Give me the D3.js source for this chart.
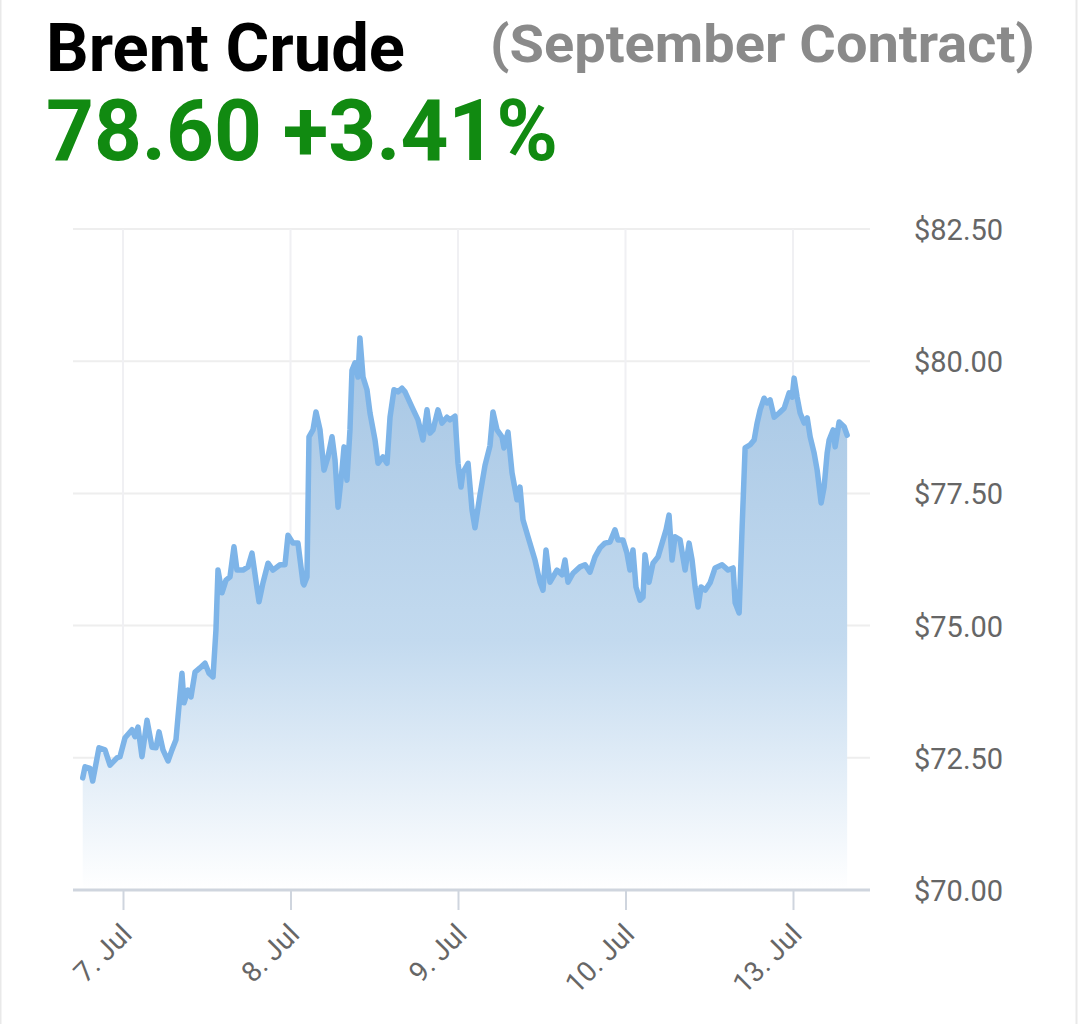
<!DOCTYPE html>
<html>
<head>
<meta charset="utf-8">
<script src="https://cdn.jsdelivr.net/npm/d3@7"></script>
<style>
  html, body { margin: 0; padding: 0; background: #ffffff; }
  svg { display: block; }
</style>
</head>
<body>
<svg id="chart" width="1080" height="1024"></svg>
<script>
// ---- data (trading-time hours after 7 Jul 00:00, weekend skipped) ----
const title = "Brent Crude";
const subtitle = "(September Contract)";
const lastPrice = "78.60";
const changePct = "+3.41%";

const xTickHours = [0, 24, 48, 72, 96];
const xTickLabels = ["7. Jul", "8. Jul", "9. Jul", "10. Jul", "13. Jul"];
const yTicks = [70, 72.5, 75, 77.5, 80, 82.5];

const hours = [
  -5.77, -5.44, -4.73, -4.34, -3.44, -2.58, -1.86, -0.86, -0.43, 0.29,
  1.29, 1.72, 2.15, 2.72, 3.44, 4.16, 4.73, 5.16, 5.73, 6.45,
  7.02, 7.59, 7.88, 8.45, 8.74, 9.31, 9.74, 10.32, 11.03, 11.75,
  12.32, 12.90, 13.32, 13.61, 14.18, 14.76, 15.33, 15.90, 16.33, 17.19,
  17.91, 18.48, 19.20, 19.49, 20.06, 20.78, 21.49, 22.50, 23.21, 23.64,
  24.36, 25.07, 25.79, 25.93, 26.36, 26.65, 27.22, 27.65, 28.23, 28.80,
  29.37, 29.95, 30.38, 30.81, 31.38, 31.67, 32.09, 32.52, 32.81, 33.24,
  33.67, 33.95, 34.39, 34.96, 35.39, 36.11, 36.54, 37.25, 37.83, 38.26,
  38.83, 39.40, 39.97, 40.41, 41.41, 42.27, 42.98, 43.56, 43.99, 44.42,
  45.13, 45.71, 46.42, 46.85, 47.57, 48.00, 48.43, 48.72, 49.44, 50.01,
  50.43, 51.15, 51.87, 52.58, 53.01, 53.59, 54.30, 54.59, 55.16, 55.74,
  56.45, 56.88, 57.31, 58.03, 59.03, 59.75, 60.18, 60.61, 61.18, 62.18,
  62.90, 63.33, 63.76, 64.48, 65.48, 66.20, 66.91, 67.63, 68.35, 69.06,
  69.78, 70.49, 70.92, 71.64, 72.21, 72.64, 73.07, 73.50, 74.08, 74.51,
  74.79, 75.37, 75.94, 76.66, 77.81, 78.24, 78.67, 79.10, 79.82, 80.54,
  81.11, 81.54, 81.97, 82.40, 82.83, 83.41, 84.12, 84.84, 85.84, 86.70,
  87.42, 87.71, 88.28, 88.71, 89.14, 89.86, 90.43, 90.86, 91.29, 91.86,
  92.29, 92.72, 93.30, 94.01, 94.73, 95.45, 95.88, 96.16, 96.59, 97.02,
  97.60, 98.03, 98.46, 99.03, 99.46, 100.03, 100.46, 100.89, 101.18, 101.75,
  102.04, 102.61, 103.33, 103.76
];
const prices = [
  72.12, 72.33, 72.30, 72.06, 72.69, 72.65, 72.36, 72.50, 72.52, 72.88,
  73.03, 72.90, 73.08, 72.52, 73.21, 72.70, 72.69, 72.99, 72.65, 72.44,
  72.65, 72.84, 73.27, 74.10, 73.54, 73.78, 73.65, 74.12, 74.20, 74.29,
  74.10, 74.03, 74.92, 76.05, 75.62, 75.86, 75.92, 76.49, 76.05, 76.05,
  76.11, 76.37, 75.71, 75.45, 75.81, 76.18, 76.05, 76.15, 76.15, 76.71,
  76.56, 76.56, 75.81, 75.77, 75.92, 78.57, 78.70, 79.04, 78.70, 77.94,
  78.19, 78.57, 78.13, 77.24, 77.94, 78.38, 77.75, 78.70, 79.83, 79.97,
  79.70, 80.44, 79.70, 79.46, 79.02, 78.51, 78.07, 78.19, 78.07, 78.94,
  79.46, 79.42, 79.49, 79.42, 79.13, 78.89, 78.51, 79.08, 78.64, 78.70,
  79.08, 78.83, 78.94, 78.89, 78.96, 78.07, 77.62, 77.90, 78.07, 77.19,
  76.85, 77.47, 78.03, 78.40, 79.04, 78.70, 78.57, 78.36, 78.66, 77.89,
  77.38, 77.62, 77.00, 76.68, 76.24, 75.82, 75.67, 76.43, 75.82, 76.05,
  75.96, 76.24, 75.82, 75.99, 76.11, 76.15, 76.01, 76.30, 76.47, 76.56,
  76.58, 76.81, 76.62, 76.62, 76.37, 76.05, 76.43, 75.73, 75.48, 75.54,
  76.34, 75.82, 76.18, 76.30, 76.81, 77.09, 76.24, 76.68, 76.62, 76.05,
  76.56, 76.24, 75.73, 75.35, 75.73, 75.67, 75.81, 76.09, 76.15, 76.05,
  76.09, 75.43, 75.24, 76.86, 78.36, 78.42, 78.51, 78.83, 79.08, 79.30,
  79.21, 79.27, 78.94, 79.02, 79.11, 79.40, 79.32, 79.68, 79.32, 79.02,
  78.83, 78.93, 78.57, 78.26, 77.94, 77.32, 77.62, 78.26, 78.51, 78.70,
  78.38, 78.85, 78.76, 78.60
];

// ---- layout ----
const svg = d3.select("#chart");
const plotLeft = 73, plotRight = 870, plotTop = 229, plotBottom = 890;

const x = d3.scaleLinear().domain([0, 96]).range([123, 793]);
const y = d3.scaleLinear().domain([70, 82.5]).range([plotBottom, plotTop]);

const data = hours.map((h, i) => ({ h, p: prices[i] }));

// card edges
svg.append("rect").attr("x", 0.5).attr("y", -2).attr("width", 1076).attr("height", 1030)
  .attr("fill", "#ffffff").attr("stroke", "#e9e9e9").attr("stroke-width", 2);

// header
svg.append("text").attr("x", 46).attr("y", 71)
  .attr("font-family", "Roboto, 'Noto Sans', sans-serif").attr("font-weight", 700)
  .attr("font-size", 67).attr("fill", "#000000")
  .attr("textLength", 359).attr("lengthAdjust", "spacingAndGlyphs")
  .text(title);
svg.append("text").attr("x", 490).attr("y", 62)
  .attr("font-family", "Roboto, 'Noto Sans', sans-serif").attr("font-weight", 700)
  .attr("font-size", 51).attr("fill", "#8a8a8a")
  .attr("textLength", 545).attr("lengthAdjust", "spacingAndGlyphs")
  .text(subtitle);
svg.append("text").attr("x", 46).attr("y", 160)
  .attr("font-family", "Roboto, 'Noto Sans', sans-serif").attr("font-weight", 700)
  .attr("font-size", 86).attr("fill", "#118a11")
  .attr("textLength", 512).attr("lengthAdjust", "spacingAndGlyphs")
  .text(lastPrice + " " + changePct);

// gridlines
const grid = svg.append("g");
grid.selectAll("line.h").data(yTicks).join("line")
  .attr("x1", plotLeft).attr("x2", plotRight)
  .attr("y1", d => y(d)).attr("y2", d => y(d))
  .attr("stroke", "#eeeeee").attr("stroke-width", 2);
grid.selectAll("line.v").data(xTickHours).join("line")
  .attr("x1", d => x(d)).attr("x2", d => x(d))
  .attr("y1", plotTop).attr("y2", plotBottom)
  .attr("stroke", "#f0f0f3").attr("stroke-width", 2);

// gradient
const defs = svg.append("defs");
const grad = defs.append("linearGradient").attr("id", "fillGrad")
  .attr("gradientUnits", "userSpaceOnUse")
  .attr("x1", 0).attr("x2", 0).attr("y1", y(d3.max(prices))).attr("y2", plotBottom);
grad.append("stop").attr("offset", "0%").attr("stop-color", "#a6c6e4");
grad.append("stop").attr("offset", "55%").attr("stop-color", "#c3daef");
grad.append("stop").attr("offset", "100%").attr("stop-color", "#ffffff");

const area = d3.area().x(d => x(d.h)).y0(y(70)).y1(d => y(d.p));
const line = d3.line().x(d => x(d.h)).y(d => y(d.p));

svg.append("path").datum(data).attr("d", area).attr("fill", "url(#fillGrad)");
svg.append("path").datum(data).attr("d", line)
  .attr("fill", "none").attr("stroke", "#7db4e8").attr("stroke-width", 5.5)
  .attr("stroke-linejoin", "round").attr("stroke-linecap", "round");

// x axis
const xAxis = d3.axisBottom(x).tickValues(xTickHours)
  .tickFormat((d, i) => xTickLabels[i]).tickSize(20).tickPadding(0);
const gx = svg.append("g").attr("transform", `translate(0,${plotBottom})`).call(xAxis);
gx.select(".domain").remove();
gx.selectAll(".tick line").attr("stroke", "#cfd5de").attr("stroke-width", 2);
gx.selectAll(".tick text")
  .attr("font-family", "Roboto, 'Noto Sans', sans-serif").attr("font-size", 28)
  .attr("fill", "#666666").attr("text-anchor", "end")
  .attr("dy", null).attr("y", 0)
  .attr("transform", "translate(10,46) rotate(-45)");
svg.append("line").attr("x1", plotLeft).attr("x2", plotRight)
  .attr("y1", plotBottom).attr("y2", plotBottom)
  .attr("stroke", "#cfd5de").attr("stroke-width", 3);

// y axis labels (right)
const yAxis = d3.axisRight(y).tickValues(yTicks)
  .tickFormat(d => "$" + d3.format(".2f")(d)).tickSize(0).tickPadding(0);
const gy = svg.append("g").attr("transform", `translate(914,0)`).call(yAxis);
gy.select(".domain").remove();
gy.selectAll(".tick text")
  .attr("font-family", "Roboto, 'Noto Sans', sans-serif").attr("font-size", 29)
  .attr("fill", "#666666").attr("x", 0).attr("dy", "0.36em");
</script>
</body>
</html>
